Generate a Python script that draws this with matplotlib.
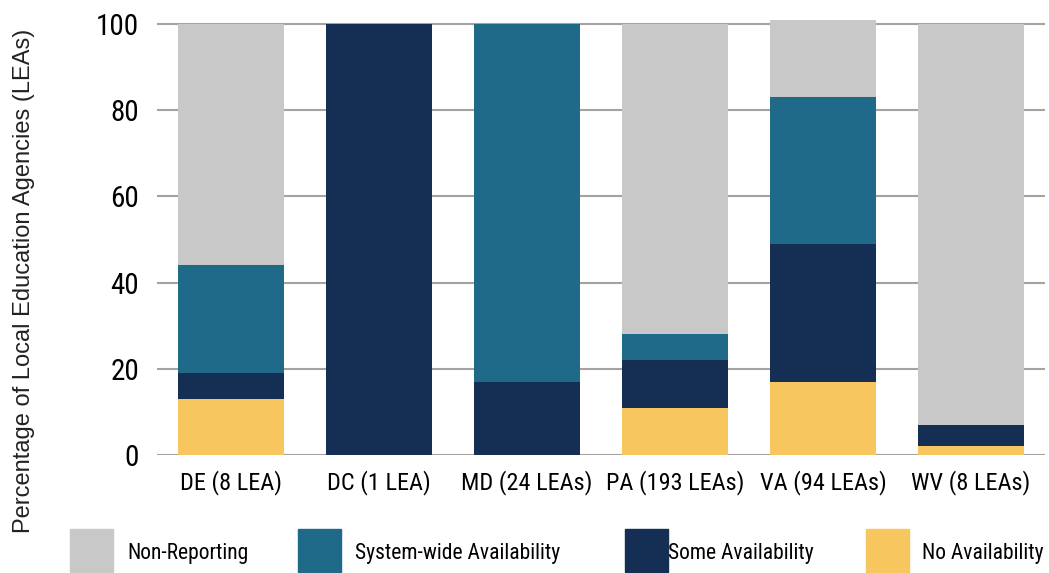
import matplotlib
matplotlib.use("Agg")
import matplotlib.pyplot as plt
from matplotlib.patches import Rectangle
import numpy as np

categories = ["DE (8 LEA)", "DC (1 LEA)", "MD (24 LEAs)", "PA (193 LEAs)", "VA (94 LEAs)", "WV (8 LEAs)"]
no_avail = [13, 0, 0, 11, 17, 2]
some_avail = [6, 100, 17, 11, 32, 5]
system_avail = [25, 0, 83, 6, 34, 0]
non_reporting = [56, 0, 0, 72, 18, 93]
series_names = ["Non-Reporting", "System-wide Availability", "Some Availability", "No Availability"]
yticks = [0, 20, 40, 60, 80, 100]

colors = {"No Availability": "#f8c65e", "Some Availability": "#152e53",
          "System-wide Availability": "#206a89", "Non-Reporting": "#c7c8c7"}

cond = dict(family=["Roboto Condensed", "DejaVu Sans"], stretch="condensed")
reg = ["Liberation Sans", "DejaVu Sans"]

fig = plt.figure(figsize=(10.49, 5.73), dpi=100)
ax = fig.add_axes([157/1049, 1-455/573, (1045-157)/1049, (455-15.4)/573])

x = np.arange(len(categories))
w = 0.72
bottom = np.zeros(len(categories))
stack = [("No Availability", no_avail), ("Some Availability", some_avail),
         ("System-wide Availability", system_avail), ("Non-Reporting", non_reporting)]
for name, vals in stack:
    vals = np.array(vals, dtype=float)
    ax.bar(x, vals, w, bottom=bottom, color=colors[name], zorder=2, linewidth=0)
    bottom += vals

ax.set_xlim(-0.5, len(categories)-0.5)
ax.set_ylim(0, 102)
ax.set_yticks(yticks)
ax.set_yticklabels([str(t) for t in yticks], fontsize=21, **cond)
ax.set_xticks(x)
ax.set_xticklabels(categories, fontsize=17.5, **cond)
ax.tick_params(axis="both", length=0)
ax.tick_params(axis="y", pad=13)
ax.tick_params(axis="x", pad=11)
ax.grid(axis="y", color="#a8a29e", linewidth=1.5, zorder=0)
ax.set_axisbelow(True)
for s in ax.spines.values():
    s.set_visible(False)

fig.text(24/1049, 1-281/573, "Percentage of Local Education Agencies (LEAs)",
         rotation=90, ha="center", va="center", family=reg, fontsize=17, color="#222222")

patch_x = [70, 298, 625, 866]
text_x = [127, 355, 668, 922]
for px, tx, name in zip(patch_x, text_x, series_names):
    fig.patches.append(Rectangle((px/1049, 1-572/573), 43/1049, 43/573,
                                 transform=fig.transFigure, color=colors[name]))
    fig.text(tx/1049, 1-553/573, name, ha="left", va="center", fontsize=15.5, **cond)

fig.savefig("out.png", dpi=100)
